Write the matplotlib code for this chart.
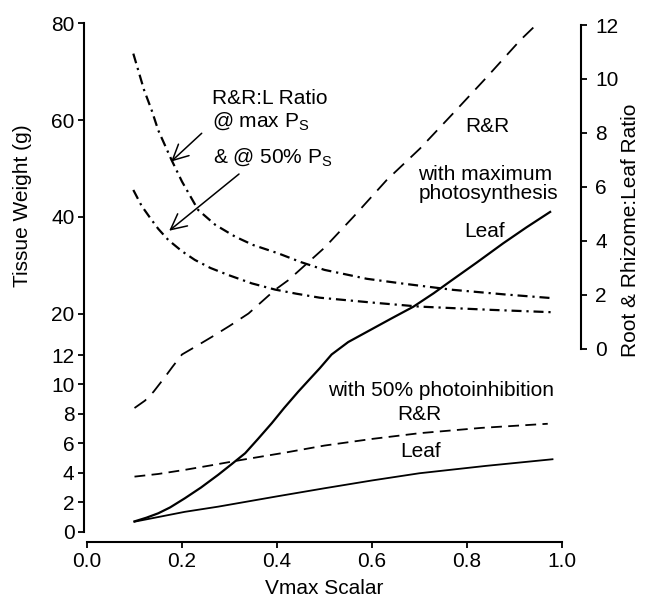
import numpy as np
import matplotlib
matplotlib.use("Agg")
import matplotlib.pyplot as plt
from matplotlib.ticker import FormatStrFormatter

plt.rcParams['font.family'] = ['Liberation Sans', 'DejaVu Sans']
plt.rcParams['font.size'] = 15
plt.rcParams['mathtext.default'] = 'regular'

# --- data ---
# with maximum photosynthesis (left axis, g)
rr_max_x = [0.10, 0.122, 0.14, 0.164, 0.18, 0.20, 0.23, 0.263, 0.30, 0.34, 0.396, 0.424, 0.50,
            0.561, 0.631, 0.701, 0.771, 0.842, 0.912, 0.97]
rr_max_y = [8.4, 8.9, 9.5, 10.5, 11.2, 12.1, 13.7, 15.5, 17.6, 20.0, 24.9, 26.9, 33.6,
            40.0, 47.6, 54.1, 61.4, 68.9, 76.5, 82.0]
leaf_max_x = [0.10, 0.125, 0.15, 0.175, 0.206, 0.24, 0.276, 0.305, 0.333, 0.36, 0.389, 0.415,
              0.445, 0.47, 0.49, 0.515, 0.55, 0.596, 0.64, 0.687, 0.73, 0.764, 0.82, 0.876,
              0.925, 0.975]
leaf_max_y = [0.7, 0.95, 1.25, 1.65, 2.27, 3.0, 3.86, 4.6, 5.33, 6.3, 7.37, 8.4,
              9.52, 10.4, 11.1, 12.1, 14.5, 16.8, 19.0, 21.4, 24.2, 26.6, 30.5, 34.5,
              37.8, 41.0]
# with 50% photoinhibition (left axis, g)
rr_50_x = [0.10, 0.15, 0.206, 0.26, 0.326, 0.417, 0.50, 0.60, 0.70, 0.83, 0.97]
rr_50_y = [3.74, 3.92, 4.2, 4.5, 4.88, 5.37, 5.85, 6.3, 6.69, 7.05, 7.33]
leaf_50_x = [0.10, 0.206, 0.276, 0.40, 0.50, 0.60, 0.70, 0.84, 0.98]
leaf_50_y = [0.68, 1.35, 1.70, 2.4, 2.95, 3.48, 3.97, 4.47, 4.92]
# root & rhizome : leaf ratio (right axis)
ratio_max_x = [0.0975, 0.12, 0.136, 0.15, 0.178, 0.20, 0.234, 0.27, 0.312, 0.35, 0.403,
               0.45, 0.50, 0.589, 0.666, 0.771, 0.88, 0.982]
ratio_max_y = [10.94, 9.6, 8.85, 8.1, 7.0, 6.2, 5.15, 4.6, 4.16, 3.85, 3.54,
               3.22, 2.93, 2.6, 2.42, 2.19, 2.02, 1.88]
ratio_50_x = [0.0975, 0.115, 0.136, 0.15, 0.171, 0.20, 0.227, 0.26, 0.2975, 0.347, 0.396,
              0.44, 0.49, 0.60, 0.70, 0.85, 0.982]
ratio_50_y = [5.89, 5.3, 4.78, 4.45, 4.04, 3.62, 3.30, 3.0, 2.74, 2.43, 2.2,
              2.05, 1.9, 1.72, 1.57, 1.45, 1.36]

left_ticks = [0, 2, 4, 6, 8, 10, 12, 20, 40, 60, 80]
right_ticks = [0, 2, 4, 6, 8, 10, 12]
x_ticks = [0.0, 0.2, 0.4, 0.6, 0.8, 1.0]

# broken (piecewise linear) left scale: 0-12 stretched, 12-80 compressed
brk_v = [-1000, 0, 12, 20, 80, 1000]
brk_p = [-1000 * 14.72, 0, 176.7, 218.2, 508.4, 508.4 + 920 * 4.84]


def fwd(y):
    return np.interp(y, brk_v, brk_p)


def inv(p):
    return np.interp(p, brk_p, brk_v)


fig = plt.figure(figsize=(6.49, 6.02), dpi=100)
ax = fig.add_axes([87 / 649, (602 - 531.7) / 602, 475 / 649, 508.4 / 602])
ax.set_yscale('function', functions=(fwd, inv))
ax.set_xlim(0, 1.0)
ax.set_ylim(0, 80)

ax.plot(rr_max_x, rr_max_y, color='black', lw=1.3, linestyle=(0, (8, 5)))
ax.plot(leaf_max_x, leaf_max_y, color='black', lw=1.6)
ax.plot(rr_50_x, rr_50_y, color='black', lw=1.3, linestyle=(0, (6, 3.5)))
ax.plot(leaf_50_x, leaf_50_y, color='black', lw=1.3)

ax2 = ax.twinx()
ax2.set_ylim(-6.767, 12.063)
ax2.plot(ratio_max_x, ratio_max_y, color='black', lw=1.6, linestyle=(0, (4.5, 2.2, 1, 2.2)))
ax2.plot(ratio_50_x, ratio_50_y, color='black', lw=1.6, linestyle=(0, (4.5, 2.2, 1, 2.2)))

# axes styling
for a in (ax, ax2):
    a.spines['top'].set_visible(False)
    a.patch.set_visible(False)
ax.spines['right'].set_visible(False)
ax2.spines['left'].set_visible(False)
ax2.spines['bottom'].set_visible(False)

ax.spines['left'].set_linewidth(1.5)
ax.spines['left'].set_position(('outward', 2))
ax.spines['left'].set_bounds(0, 80)
ax.spines['bottom'].set_linewidth(1.5)
ax.spines['bottom'].set_position(('outward', 7.5))
ax.spines['bottom'].set_bounds(0, 1.0)
ax2.spines['right'].set_linewidth(1.5)
ax2.spines['right'].set_position(('outward', 14))
ax2.spines['right'].set_bounds(0, 12)

ax.set_yticks(left_ticks)
ax.set_yticklabels([str(t) for t in left_ticks])
ax.yaxis.set_minor_locator(plt.NullLocator())
ax.set_xticks(x_ticks)
ax.xaxis.set_major_formatter(FormatStrFormatter('%.1f'))
ax2.set_yticks(right_ticks)
ax.tick_params(axis='both', direction='out', length=4, width=1.3, pad=3)
ax2.tick_params(axis='y', direction='out', length=4, width=1.3, pad=6)

ax.set_xlabel('Vmax Scalar', labelpad=6)
ax.set_ylabel('Tissue Weight (g)')
ax.yaxis.set_label_coords(-0.116, 0.641)
ax2.set_ylabel('Root & Rhizome:Leaf Ratio')
ax2.yaxis.set_label_coords(1.124, 0.592)

# annotations (placed in right-axis data units)
ax2.text(0.2625, 9.29, 'R&R:L Ratio', ha='left', va='center')
ax2.text(0.2625, 8.42, '@ max P$_S$', ha='left', va='center')
ax2.text(0.265, 7.12, '& @ 50% P$_S$', ha='left', va='center')
ax2.annotate('', xy=(0.177, 6.94), xytext=(0.2415, 7.99),
             arrowprops=dict(arrowstyle='->', lw=1.1, color='black', mutation_scale=28,
                             shrinkA=0, shrinkB=0))
ax2.annotate('', xy=(0.173, 4.38), xytext=(0.32, 6.48),
             arrowprops=dict(arrowstyle='->', lw=1.1, color='black', mutation_scale=28,
                             shrinkA=0, shrinkB=0))

ax2.text(0.796, 8.23, 'R&R', ha='left', va='center')
ax2.text(0.6975, 6.1, 'with maximum\nphotosynthesis', ha='left', va='center', linespacing=1.0)
ax2.text(0.794, 4.34, 'Leaf', ha='left', va='center')
ax2.text(0.508, -1.52, 'with 50% photoinhibition', ha='left', va='center')
ax2.text(0.653, -2.44, 'R&R', ha='left', va='center')
ax2.text(0.659, -3.80, 'Leaf', ha='left', va='center')

fig.savefig('out.png', dpi=100)
